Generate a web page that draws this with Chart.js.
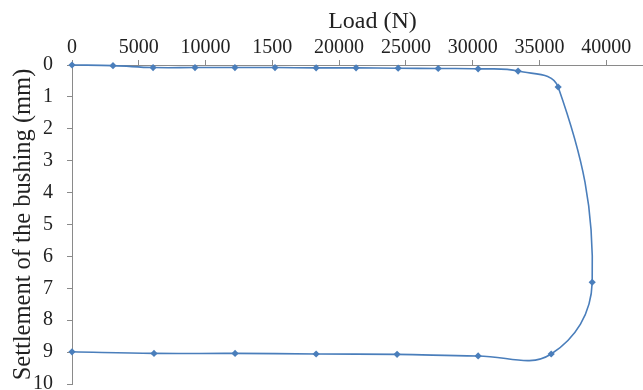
<!DOCTYPE html>
<html>
<head>
<meta charset="utf-8">
<script src="https://cdn.jsdelivr.net/npm/chart.js@4/dist/chart.umd.min.js"></script>
<style>
  html, body { margin: 0; padding: 0; background: #fff; overflow: hidden; }
  #wrap { width: 643px; height: 390px; overflow: hidden; position: relative; }
  canvas { display: block; }
</style>
</head>
<body>
<div id="wrap"><canvas id="c" width="680" height="410"></canvas></div>
<script>
// Load (N) for each measured point (loading, then unloading)
const loads = [0, 3070, 6070, 9210, 12200, 15200, 18280, 21270, 24420, 27420, 30410, 33400, 36400,
               38950, 35880, 30410, 24340, 18280, 12210, 6140, 0];
// Settlement of the bushing (mm)
const settlement = [0, 0.02, 0.08, 0.08, 0.08, 0.08, 0.09, 0.09, 0.10, 0.11, 0.12, 0.19, 0.69,
                    6.81, 9.06, 9.12, 9.07, 9.06, 9.04, 9.04, 8.99];
// Tick labels as printed on the top axis
const xTickLabels = ["0", "5000", "10000", "1500", "20000", "25000", "30000", "35000", "40000"];
const yTickLabels = ["0", "1", "2", "3", "4", "5", "6", "7", "8", "9", "10"];
const xTitle = "Load (N)";
const yTitle = "Settlement of the bushing (mm)";

const points = loads.map((x, i) => ({ x: x, y: settlement[i] }));

const axisColor = '#8a8a8a';
const textColor = '#222';
const serif = "'Liberation Serif', 'Times New Roman', serif";

new Chart(document.getElementById('c'), {
  type: 'scatter',
  data: {
    datasets: [{
      data: points,
      showLine: true,
      borderColor: '#4a7ebb',
      backgroundColor: '#4a7ebb',
      borderWidth: 1.6,
      tension: 0.4,
      pointStyle: 'rectRot',
      pointRadius: 3.6,
      pointBorderWidth: 0,
      clip: false
    }]
  },
  options: {
    responsive: false,
    animation: false,
    devicePixelRatio: 1,
    layout: { padding: { top: 0, right: 7, bottom: 0, left: 0 } },
    plugins: { legend: { display: false }, tooltip: { enabled: false } },
    scales: {
      x: {
        type: 'linear',
        position: 'top',
        min: 0,
        max: 45000,
        afterFit: (s) => { s.height = 65; },
        afterBuildTicks: (s) => { s.ticks = s.ticks.filter(t => t.value <= 40000); },
        ticks: {
          stepSize: 5000,
          padding: 0,
          color: textColor,
          font: { family: serif, size: 20 },
          maxRotation: 0,
          autoSkip: false,
          callback: (v) => { const i = Math.round(v / 5000); return (v % 5000 === 0 && i < xTickLabels.length) ? xTickLabels[i] : ''; }
        },
        grid: { display: true, drawOnChartArea: false, drawTicks: true, tickLength: 5, color: axisColor },
        border: { display: true, color: axisColor, width: 1 },
        title: { display: true, text: xTitle, color: textColor, font: { family: serif, size: 24 }, padding: { top: 7, bottom: 0 } }
      },
      y: {
        type: 'linear',
        reverse: true,
        min: 0,
        max: 10,
        afterFit: (s) => { s.width = 72; },
        ticks: {
          stepSize: 1,
          padding: 14,
          color: textColor,
          font: { family: serif, size: 20 },
          callback: (v) => yTickLabels[v] !== undefined ? yTickLabels[v] : ''
        },
        grid: { display: true, drawOnChartArea: false, drawTicks: true, tickLength: 5, color: axisColor },
        border: { display: true, color: axisColor, width: 1 },
        title: { display: true, text: yTitle, color: textColor, font: { family: serif, size: 24.5 }, padding: { top: 9, bottom: 0 } }
      }
    }
  }
});
</script>
</body>
</html>
